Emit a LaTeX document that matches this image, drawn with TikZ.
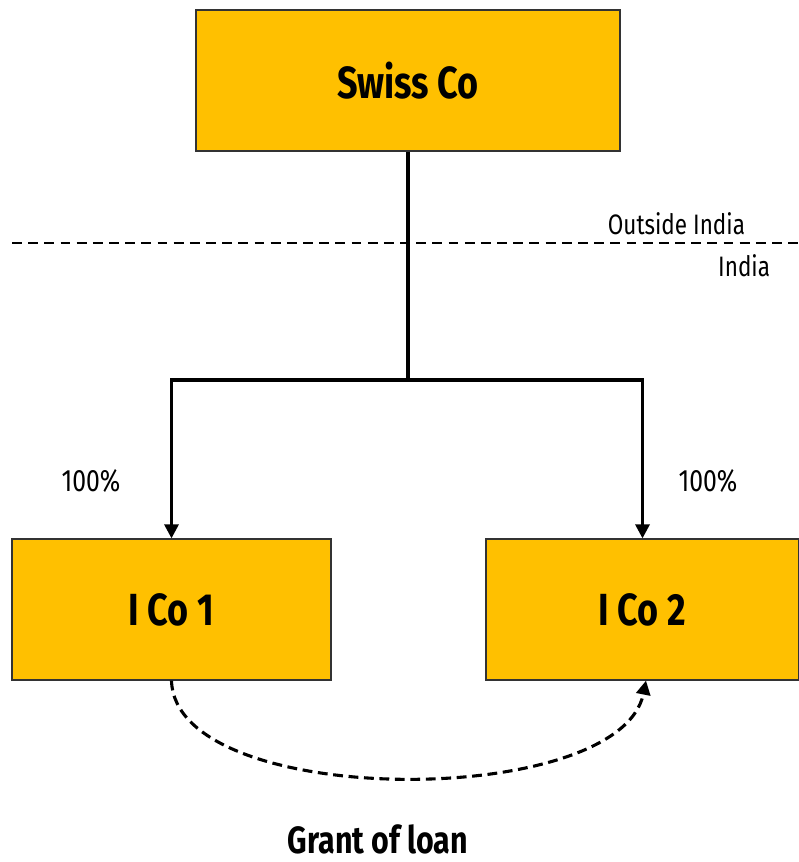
\documentclass[tikz,border=0pt]{standalone}
\usepackage{fontspec}
\setmainfont{Fira Sans}[FakeStretch=0.8]
\usetikzlibrary{arrows.meta, positioning}

\definecolor{cogold}{HTML}{FFC000}

\tikzset{
    entity/.style={draw=black!80, fill=cogold, line width=1pt, minimum height=3.52cm,
        font=\bfseries\fontsize{32}{38}\selectfont},
    link/.style={line width=2.2pt},
    region/.style={font=\fontsize{20}{24}\selectfont}
}

\begin{document}
\begin{tikzpicture}[x=0.025cm, y=-0.025cm, >={Triangle[width=10pt, length=10pt]}]

    \useasboundingbox (0,0) rectangle (799,862);

    \node[entity, minimum width=10.6cm] (swiss) at (408,80.5) {Swiss Co};
    \node[entity, minimum width=7.98cm] (ico1) at (171.5,609.5) {I Co 1};
    \node[entity, minimum width=7.82cm] (ico2) at (642.5,609.5) {I Co 2};

    % border between the two jurisdictions
    \coordinate (borderL) at (12,243);
    \coordinate (borderR) at (799,243);
    \draw[dashed, line width=0.9pt, dash pattern=on 7pt off 4.5pt] (borderL) -- (borderR);
    \node[region, anchor=south east] (outside) at (750,240) {Outside India};
    \node[region, anchor=north east] (india) at (775,250) {India};

    % shareholding
    \coordinate (split) at (408,380);
    \draw[link] (swiss.south) -- (split);
    \draw[link, ->] (split) -| (ico1.north);
    \draw[link, ->] (split) -| (ico2.north);
    \node[region, font=\fontsize{22}{26}\selectfont] (share1) at (91,481) {100\%};
    \node[region, font=\fontsize{22}{26}\selectfont] (share2) at (708,481) {100\%};

    % loan between the two Indian companies
    \draw[link, dashed, dash pattern=on 7pt off 4pt, ->] (ico1.south) .. controls (175,810) and (620,810) .. ([xshift=2.5pt]ico2.south);
    \node[font=\bfseries\fontsize{27}{32}\selectfont, inner sep=0pt, anchor=base] (loan) at (378,853) {Grant of loan};

\end{tikzpicture}
\end{document}
